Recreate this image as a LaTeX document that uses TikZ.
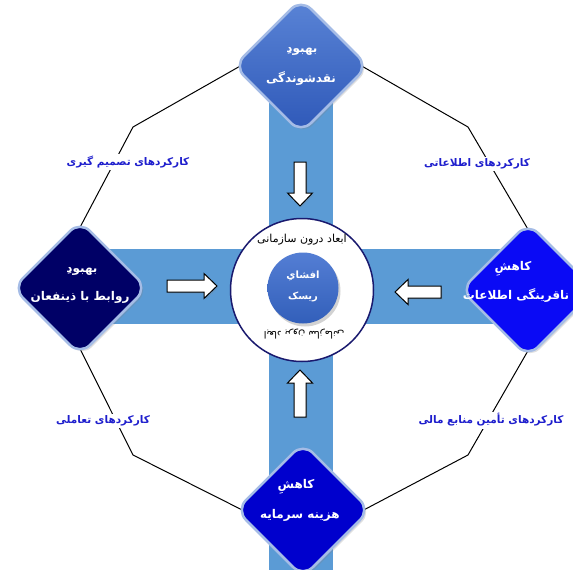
\documentclass[tikz,border=0pt]{standalone}
\usepackage{fontspec}
\newfontfamily\fa[Script=Arabic]{DejaVu Sans}
\TeXXeTstate=1
\usetikzlibrary{shapes.geometric,shadows}
\definecolor{barblue}{RGB}{91,155,213}
\definecolor{lblblue}{RGB}{30,30,205}
\definecolor{rimblue}{RGB}{165,188,230}
\definecolor{navy}{RGB}{0,0,102}
\definecolor{brightblue}{RGB}{10,10,245}
\definecolor{midblue}{RGB}{0,0,205}
\definecolor{ringnavy}{RGB}{25,25,110}
\begin{document}
\begin{tikzpicture}[x=1pt,y=-1pt,
  diamgeom/.style={diamond, minimum width=135pt, minimum height=135pt, inner sep=0pt},
  diam/.style={diamgeom, rounded corners=14pt, draw=rimblue, line width=2.5pt,
    drop shadow={opacity=0.25, shadow xshift=2pt, shadow yshift=-2pt}},
  topfill/.style={top color={rgb,255:red,90;green,132;blue,214}, bottom color={rgb,255:red,46;green,88;blue,184}},
  dtext/.style={font=\fa\bfseries\fontsize{12}{14}\selectfont, text=white, inner sep=0pt},
  lbl/.style={font=\fa\bfseries\fontsize{10.5}{12}\selectfont, text=lblblue, fill=white, inner sep=2pt},
  edge/.style={draw=black, line width=1pt},
  barv/.style={fill=barblue, draw=none},
  arrowst/.style={draw=black, fill=white, line width=1pt, line join=miter,
    drop shadow={opacity=0.2, shadow xshift=1.5pt, shadow yshift=-1.5pt}},
  pics/barrow/.style={code={
    \path[arrowst] ({-#1/2},-6) -- ({#1/2-13},-6) -- ({#1/2-13},-12.5) -- ({#1/2},0)
      -- ({#1/2-13},12.5) -- ({#1/2-13},6) -- ({-#1/2},6) -- cycle;}}]
\useasboundingbox (0,0) rectangle (573,570);
\clip (0,0) rectangle (573,570);
% cross bars
\fill[barv] (269,40) rectangle (333,570);
\fill[barv] (60,249) rectangle (525,324);
% diamond geometry (named)
\path node[diamgeom] (topD) at (301,66) {};
\path node[diamgeom] (leftD) at (80,288) {};
\path node[diamgeom] (rightD) at (528,290) {};
\path node[diamgeom] (botD) at (303,510) {};
% octagon corners
\coordinate (cTL) at (133,127);
\coordinate (cTR) at (468,127);
\coordinate (cBL) at (133,455);
\coordinate (cBR) at (468,455);
\draw[edge] ([xshift=7pt]topD.west) -- (cTL) -- ([yshift=-7pt]leftD.north);
\draw[edge] ([xshift=-7pt]topD.east) -- (cTR) -- ([yshift=-7pt]rightD.north);
\draw[edge] ([yshift=7pt]leftD.south) -- (cBL) -- ([xshift=7pt]botD.west);
\draw[edge] ([yshift=7pt]rightD.south) -- (cBR) -- ([xshift=-7pt]botD.east);
% diamonds
\node[diam, topfill] at (topD) {};
\node[diam, fill=navy] at (leftD) {};
\node[diam, fill=brightblue] at (rightD) {};
\node[diam, fill=midblue] at (botD) {};
% diamond texts
\node[dtext] (topT1) at (302,51) {\beginR بهبودِ\endR};
\node[dtext] (topT2) at (301,79) {\beginR نقدشوندگی\endR};
\node[dtext] (leftT1) at (82,271) {\beginR بهبودِ\endR};
\node[dtext] (leftT2) at (80,297) {\beginR روابط با ذینفعان\endR};
\node[dtext] (rightT1) at (513,269) {\beginR کاهشِ\endR};
\node[dtext] (rightT2) at (516,296) {\beginR ناقرینگی اطلاعات\endR};
\node[dtext] (botT1) at (296,487) {\beginR کاهشِ\endR};
\node[dtext] (botT2) at (300,515) {\beginR هزینه سرمایه\endR};
% side labels
\node[lbl] (l1) at (128,162) {\beginR کارکردهای تصمیم گیری\endR};
\node[lbl] (l2) at (477,164) {\beginR کارکردهای اطلاعاتی\endR};
\node[lbl] (l3) at (103,421) {\beginR کارکردهای تعاملی\endR};
\node[lbl] (l4) at (491,420) {\beginR کارکردهای تأمین منابع مالی\endR};
% center circle
\node[circle, draw=ringnavy, fill=white, line width=1.5pt, minimum size=143pt, inner sep=0pt] (ring) at (302,290) {};
\node[circle, minimum size=71pt, inner sep=0pt, top color={rgb,255:red,84;green,126;blue,212}, bottom color={rgb,255:red,50;green,95;blue,186},
  drop shadow={opacity=0.35, shadow xshift=2pt, shadow yshift=-3pt}] (core) at (303,288) {};
\node[dtext, font=\fa\bfseries\fontsize{10}{12}\selectfont] (coreT1) at (303,276) {\beginR افشایِ\endR};
\node[dtext, font=\fa\bfseries\fontsize{10}{12}\selectfont] (coreT2) at (303,297) {\beginR ریسک\endR};
\node[font=\fa\fontsize{11}{13}\selectfont, inner sep=0pt] (inT) at (302,240) {\beginR ابعاد درون سازمانی\endR};
\node[font=\fa\fontsize{10}{12}\selectfont, inner sep=0pt, rotate=180] (outT) at (304,334) {\beginR ابعاد برون سازمانی\endR};
% block arrows
\pic[rotate=-90] at (300,184) {barrow=44};
\pic[rotate=90] at (300,393.5) {barrow=47};
\pic at (192,286) {barrow=50};
\pic[rotate=180] at (418,292) {barrow=46};
\end{tikzpicture}
\end{document}
